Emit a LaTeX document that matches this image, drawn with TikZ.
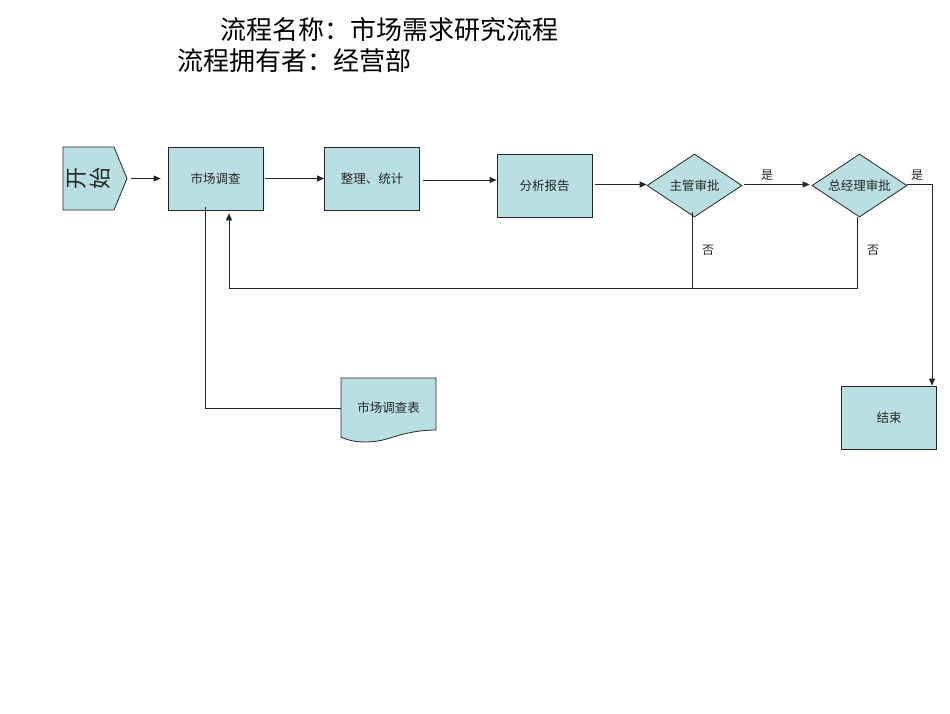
\documentclass[tikz,border=0pt]{standalone}
\usepackage{fontspec}
\setmainfont{Noto Sans CJK SC}
\usetikzlibrary{shapes.geometric,arrows.meta}
\definecolor{boxfill}{RGB}{186,223,226}
\tikzset{
  box/.style={draw=black!85, line width=0.8pt, fill=boxfill, rectangle, inner sep=0pt,
    minimum width=95pt, minimum height=63pt, font=\fontsize{12.5}{14}\selectfont, text=black!85},
  dia/.style={draw=black!85, line width=0.8pt, fill=boxfill, diamond, inner sep=0pt, shape aspect=1.5,
    minimum width=95pt, minimum height=63pt, font=\fontsize{12.5}{14}\selectfont, text=black!85},
  ghost/.style={rectangle, inner sep=0pt, font=\fontsize{12.5}{14}\selectfont, text=black!85},
  conn/.style={line width=0.8pt, draw=black!85},
  arr/.style={conn, -{Triangle[length=7pt,width=6pt]}},
  lab/.style={inner sep=0pt, font=\fontsize{12}{14}\selectfont, text=black!85},
  title/.style={anchor=west, inner sep=0pt, font=\fontsize{26}{30}\selectfont}
}
\begin{document}
\begin{tikzpicture}[x=1pt,y=-1pt]
\useasboundingbox (0,0) rectangle (950,713);
% titles
\node[title] (t1) at (220,30) {流程名称：市场需求研究流程};
\node[title] (t2) at (177,61) {流程拥有者：经营部};
% start shape
\draw[line width=0.8pt, draw=black!85, fill=boxfill] (63,147) -- (114,147) -- (127,178.5) -- (114,210) -- (63,210) -- cycle;
\node[ghost, minimum width=64pt, minimum height=63pt] (start) at (95,178.5) {};
\node[lab, rotate=90, font=\fontsize{22}{24}\selectfont] (s1) at (77,178.5) {开};
\node[lab, rotate=90, font=\fontsize{22}{24}\selectfont] (s2) at (100,178.5) {始};
% boxes
\node[box] (m1) at (215.5,178.5) {市场调查};
\node[box] (m2) at (372,178.5) {整理、统计};
\node[box] (m3) at (544.5,185.5) {分析报告};
\node[dia] (d1) at (694.5,185.5) {主管审批};
\node[dia] (d2) at (859.5,185.5) {总经理审批};
\node[box] (end) at (889,417.5) {结束};
% document
\draw[line width=0.8pt, draw=black!85, fill=boxfill] (341,378) -- (436,378) -- (436,430)
  .. controls (420,430) and (405,433) .. (390,438)
  .. controls (375,443) and (355,444) .. (341,437) -- cycle;
\node[ghost, minimum width=95pt, minimum height=20pt] (doc) at (388.5,408) {市场调查表};
% connectors
\draw[arr, shorten <=4pt, shorten >=7pt] (start.east) -- (m1.west);
\draw[arr, shorten <=2pt] (m1.east) -- (m2.west);
\draw[arr, shorten <=3pt] ([yshift=-1.5pt]m2.east) -- ([yshift=-1.5pt]m2.east -| m3.west);
\draw[arr, shorten <=3pt] ([yshift=1pt]m3.east) -- ([yshift=1pt]d1.west);
\draw[arr, shorten <=2pt, shorten >=2pt] ([yshift=1pt]d1.east) -- ([yshift=1pt]d2.west);
\node[lab] (y1) at (767,175) {是};
\coordinate (c1) at (932,184.5);
\draw[arr] ([yshift=1pt]d2.east) -- (c1) -- (c1 |- end.north);
\node[lab] (y2) at (917,175) {是};
\coordinate (back) at (229,288);
\draw[arr, shorten >=3pt] ([xshift=-2.5pt]d2.south) |- (back) -- (back |- m1.south);
\draw[conn] ([xshift=-2.5pt,yshift=5pt]d1.south) -- ([xshift=-2.5pt]d1.south |- back);
\node[lab] (n1) at (708,250) {否};
\node[lab] (n2) at (873,250) {否};
\draw[conn] ([xshift=-10.5pt,yshift=3pt]m1.south) |- (doc.west);
\end{tikzpicture}
\end{document}
